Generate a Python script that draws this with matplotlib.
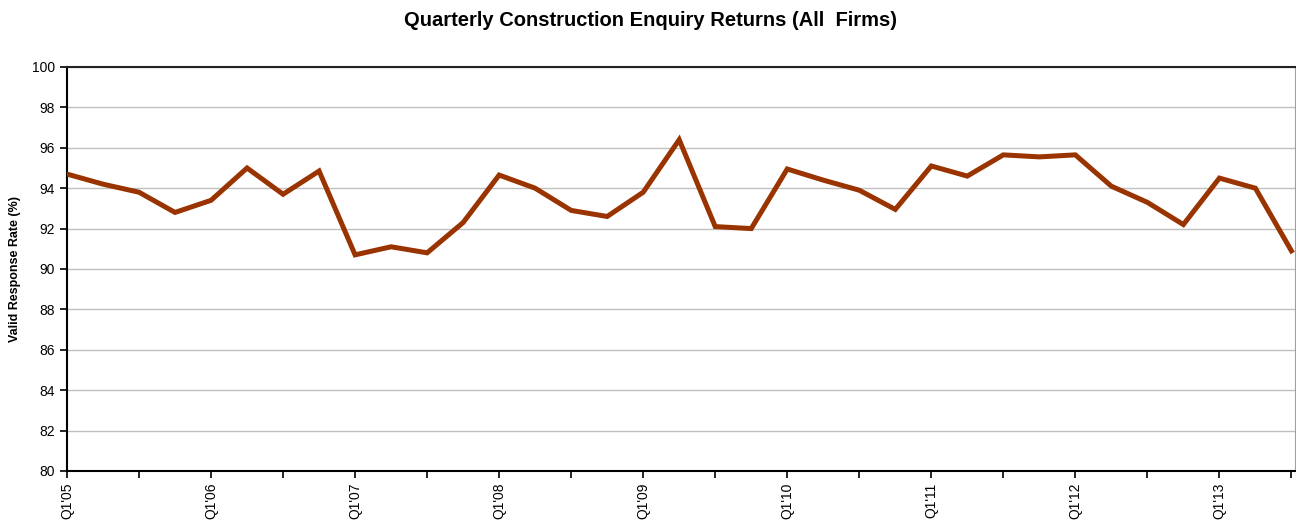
import matplotlib
matplotlib.use("Agg")
import matplotlib.pyplot as plt
from matplotlib.ticker import MultipleLocator

# quarterly valid response rates, Q1'05 .. Q3'13
quarters = ["Q%d'%02d" % (q, y) for y in range(5, 14) for q in range(1, 5)][:35]
rates = [94.7, 94.2, 93.8, 92.8, 93.4, 95.0, 93.7, 94.85,
         90.7, 91.1, 90.8, 92.3, 94.65, 94.0, 92.9, 92.6,
         93.8, 96.4, 92.1, 92.0, 94.95, 94.4, 93.9, 92.95,
         95.1, 94.6, 95.65, 95.55, 95.65, 94.1, 93.3, 92.2,
         94.5, 94.0, 90.9]

plt.rcParams['font.family'] = ['Liberation Sans', 'DejaVu Sans']

fig = plt.figure(figsize=(12.96, 5.23), dpi=100)
ax = fig.add_axes([67 / 1296, 1 - 471 / 523, (1295 - 67) / 1296, (471 - 67) / 523])

x = list(range(len(rates)))
ax.plot(x, rates, color='#993300', lw=3.6, solid_joinstyle='miter', zorder=3)

ax.set_ylim(80, 100)
ax.set_xlim(0, 34.1)
ax.yaxis.set_major_locator(MultipleLocator(2))
ax.grid(axis='y', color='#c0c0c0', lw=1)
ax.set_axisbelow(True)

ax.set_xticks(range(0, len(rates), 4))
ax.set_xticklabels([quarters[i] for i in range(0, len(rates), 4)], rotation=90)
ax.set_xticks(range(2, len(rates), 4), minor=True)
ax.tick_params(axis='x', which='both', direction='out', length=5, width=1.2, labelsize=10)
ax.tick_params(axis='y', direction='out', length=5, width=1.2, labelsize=10)

for s in ['left', 'bottom']:
    ax.spines[s].set_linewidth(1.5)
ax.spines['top'].set_linewidth(1.5)
ax.spines['top'].set_color('#222222')
ax.spines['right'].set_color('#a0a0a0')

ax.set_ylabel('Valid Response Rate (%)', fontsize=9, fontweight='bold', labelpad=8)
fig.text(650 / 1296, 1 - 20 / 523, 'Quarterly Construction Enquiry Returns (All  Firms)',
         fontsize=14.5, fontweight='bold', ha='center', va='center')

fig.savefig('out.png', dpi=100)
